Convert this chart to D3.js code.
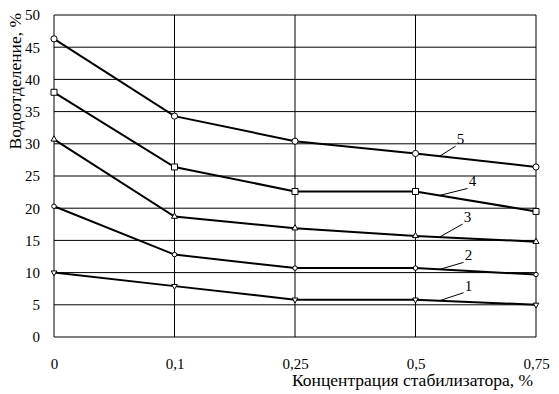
<!DOCTYPE html>
<html lang="ru">
<head>
    <meta charset="UTF-8">
    <title>Водоотделение</title>
    <script src="https://d3js.org/d3.v7.min.js"></script>
    <style>
        body { margin: 0; background: #fff; }
        svg { display: block; }
        .grid line { stroke: #000; stroke-width: 1; }
        .series { fill: none; stroke: #000; stroke-width: 2; }
        .marker { fill: #fff; stroke: #000; stroke-width: 1; }
        .leader { stroke: #000; stroke-width: 1; }
    </style>
</head>
<body>
    <svg width="559" height="394"></svg>
    <script>
        // концентрация стабилизатора, %
        const categories = ["0", "0,1", "0,25", "0,5", "0,75"];
        const yTicks = [0, 5, 10, 15, 20, 25, 30, 35, 40, 45, 50];

        // водоотделение, % (кривые 1..5)
        const series1 = [10.0, 7.9, 5.8, 5.8, 5.0];
        const series2 = [20.3, 12.8, 10.7, 10.7, 9.7];
        const series3 = [30.7, 18.7, 16.9, 15.7, 14.8];
        const series4 = [38.0, 26.4, 22.6, 22.6, 19.5];
        const series5 = [46.3, 34.3, 30.4, 28.5, 26.4];
        const seriesNames = ["1", "2", "3", "4", "5"];

        const FONT = "'Liberation Serif', 'Times New Roman', Times, 'DejaVu Serif', serif";

        const allSeries = [series1, series2, series3, series4, series5];
        const symbols = [d3.symbolTriangle, d3.symbolCircle, d3.symbolTriangle, d3.symbolSquare, d3.symbolCircle];
        const symSize = [14, 16, 16, 36, 30];
        const symRot = [180, 0, 0, 0, 0];
        // label offsets from the leader start (px)
        const labelOff = [[29, -15], [29, -14], [28, -20], [33, -14], [21, -17]];

        const margin = { top: 15, right: 23, bottom: 57, left: 54 };
        const width = 559 - margin.left - margin.right;
        const height = 394 - margin.top - margin.bottom;

        const svg = d3.select("svg")
            .append("g")
            .attr("transform", `translate(${margin.left},${margin.top})`);

        const x = d3.scalePoint().domain(categories).range([0, width]);
        const y = d3.scaleLinear().domain([0, 50]).range([height, 0]);

        // grid
        const grid = svg.append("g").attr("class", "grid");
        grid.selectAll(".h").data(yTicks).enter().append("line")
            .attr("x1", 0).attr("x2", width)
            .attr("y1", d => y(d)).attr("y2", d => y(d));
        grid.selectAll(".v").data(categories).enter().append("line")
            .attr("x1", d => x(d)).attr("x2", d => x(d))
            .attr("y1", 0).attr("y2", height);

        // axes labels
        svg.append("g")
            .call(d3.axisLeft(y).tickValues(yTicks).tickSize(0).tickPadding(14))
            .call(g => g.select(".domain").remove())
            .attr("font-family", FONT)
            .attr("font-size", 15);
        svg.append("g")
            .attr("transform", `translate(0,${height})`)
            .call(d3.axisBottom(x).tickSize(0).tickPadding(21))
            .call(g => g.select(".domain").remove())
            .attr("font-family", FONT)
            .attr("font-size", 15);

        // lines
        const line = d3.line()
            .x((d, i) => x(categories[i]))
            .y(d => y(d));
        svg.selectAll(".series")
            .data(allSeries)
            .enter()
            .append("path")
            .attr("class", "series")
            .attr("d", line);

        // markers
        allSeries.forEach((s, k) => {
            svg.selectAll(".m" + k)
                .data(s)
                .enter()
                .append("path")
                .attr("class", "marker")
                .attr("d", d3.symbol().type(symbols[k]).size(symSize[k]))
                .attr("transform", (d, i) => `translate(${x(categories[i])},${y(d)}) rotate(${symRot[k]})`);
        });

        // curve numbers with leaders
        allSeries.forEach((s, k) => {
            const x0 = x(categories[3]), x1 = x(categories[4]);
            const t = 0.2;
            const lx = x0 + (x1 - x0) * t;
            const ly = y(s[3]) + (y(s[4]) - y(s[3])) * t;
            const [dx, dy] = labelOff[k];
            svg.append("line")
                .attr("class", "leader")
                .attr("x1", lx).attr("y1", ly)
                .attr("x2", lx + dx - 5).attr("y2", ly + dy + 7);
            svg.append("text")
                .attr("x", lx + dx)
                .attr("y", ly + dy + 5)
                .attr("text-anchor", "middle")
                .attr("font-family", FONT)
                .attr("font-size", 15)
                .text(seriesNames[k]);
        });

        // axis titles
        svg.append("text")
            .attr("x", width - 3)
            .attr("y", height + 49)
            .attr("text-anchor", "end")
            .attr("font-family", FONT)
            .attr("font-size", 17.5)
            .text("Концентрация стабилизатора, %");
        svg.append("text")
            .attr("transform", "rotate(-90)")
            .attr("x", 2)
            .attr("y", -33)
            .attr("text-anchor", "end")
            .attr("font-family", FONT)
            .attr("font-size", 17.5)
            .text("Водоотделение, %");
    </script>
</body>
</html>
